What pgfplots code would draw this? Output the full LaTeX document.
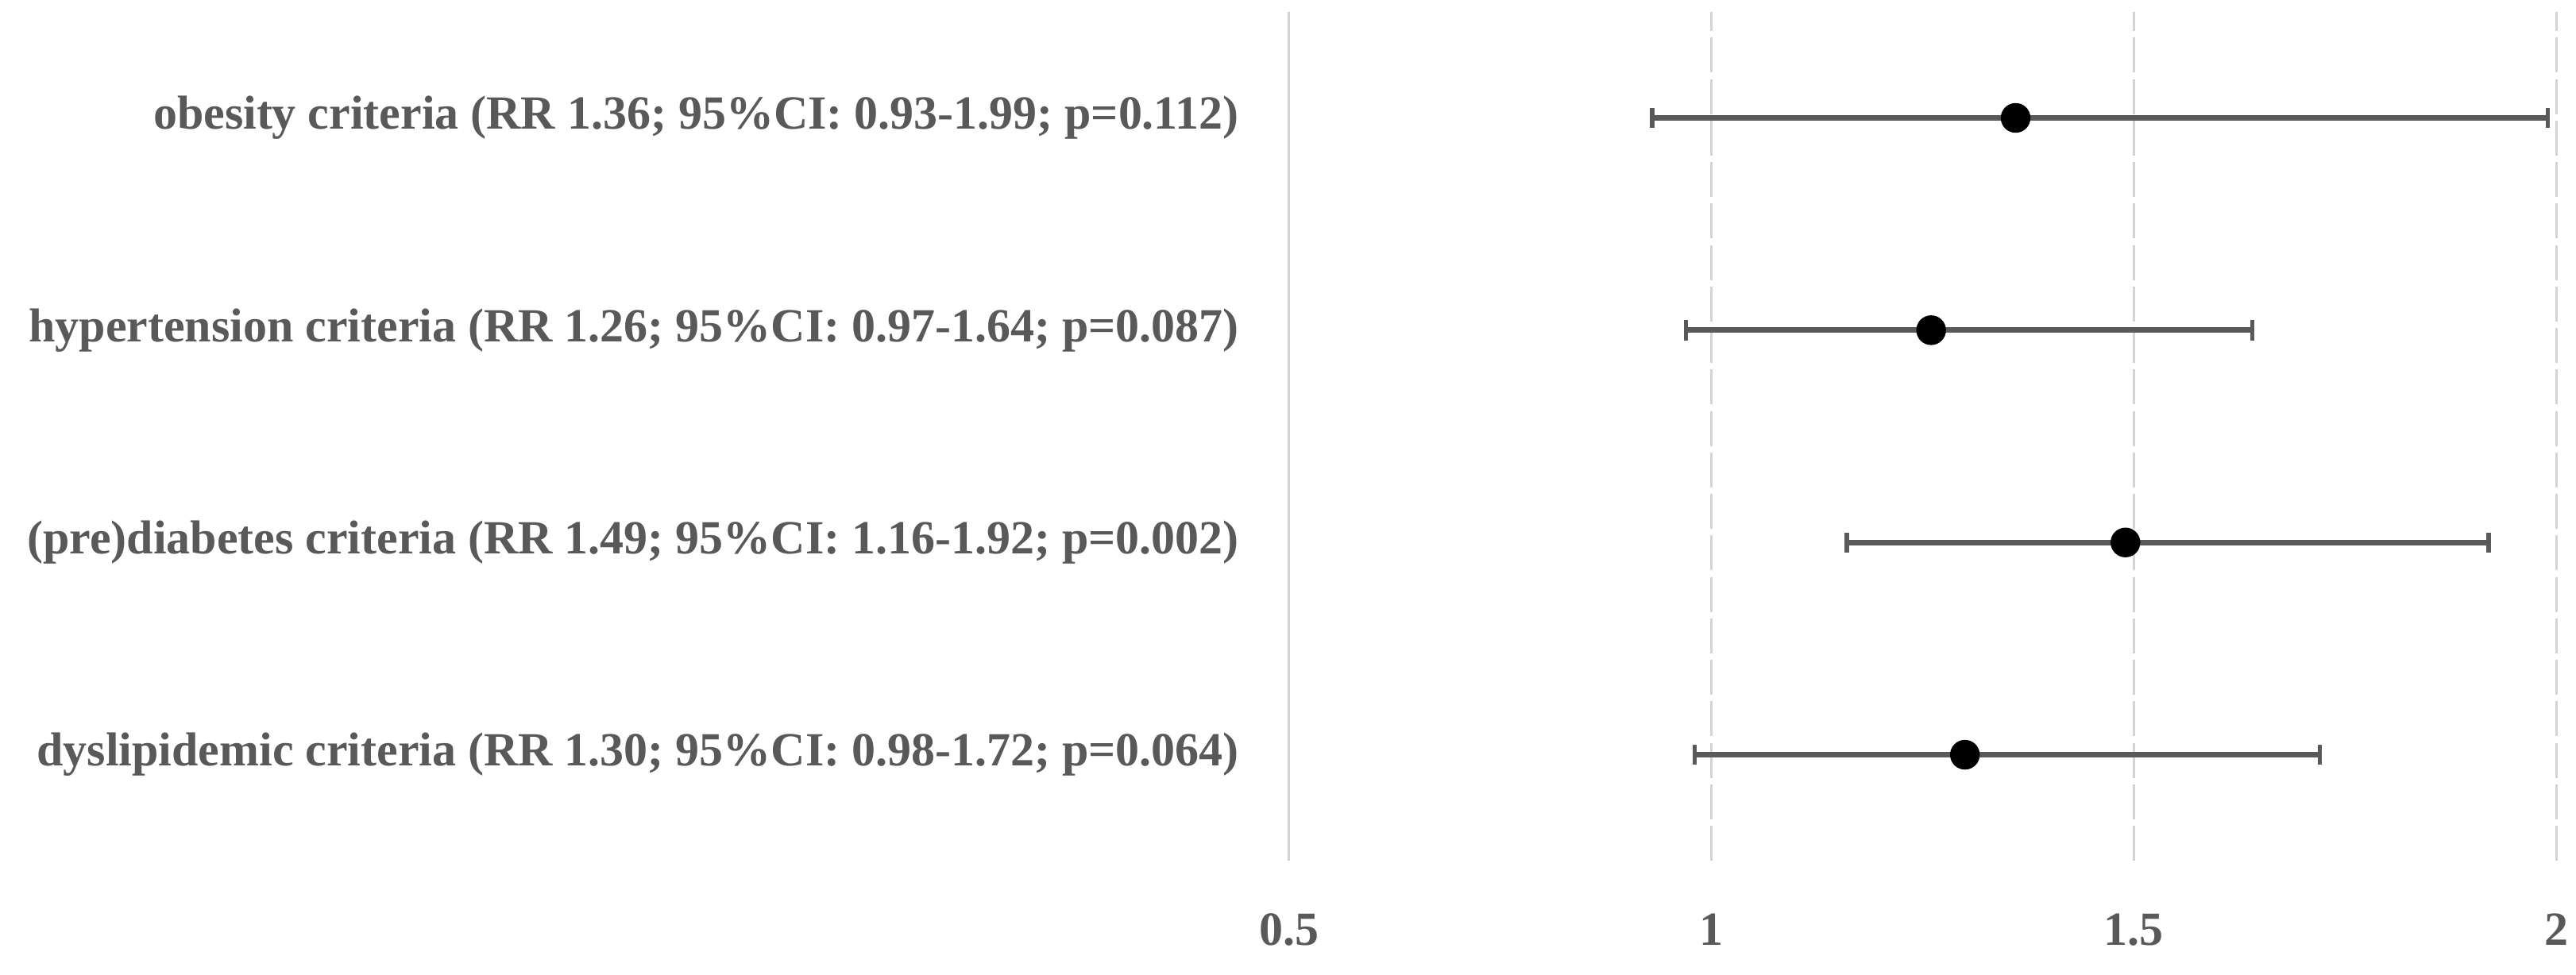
\documentclass[border=0pt]{standalone}
\usepackage{pgfplots}
\pgfplotsset{compat=1.18}
\usepackage{pgfplotstable}
\usepackage{fontspec}
\setmainfont{Liberation Serif}

\definecolor{txtgray}{HTML}{595959}
\definecolor{gridgray}{HTML}{D4D4D4}
\definecolor{bargray}{HTML}{595959}

% position, relative risk, lower and upper CI bound
\pgfplotstableread{
pos rr   lo   hi
4   1.36 0.93 1.99
3   1.26 0.97 1.64
2   1.49 1.16 1.92
1   1.30 0.98 1.72
}\rrdata

\begin{document}
\begin{tikzpicture}
\begin{axis}[
    width=290pt, height=194.4pt, scale only axis,
    xmin=0.5, xmax=2, ymin=0.5, ymax=4.5,
    xtick={0.5,1,1.5,2},
    ytick={1,2,3,4},
    yticklabels={
        dyslipidemic criteria (RR 1.30; 95\%CI: 0.98-1.72; p=0.064),
        (pre)diabetes criteria (RR 1.49; 95\%CI: 1.16-1.92; p=0.002),
        hypertension criteria (RR 1.26; 95\%CI: 0.97-1.64; p=0.087),
        obesity criteria (RR 1.36; 95\%CI: 0.93-1.99; p=0.112)},
    axis lines*=left,
    x axis line style={draw=none},
    y axis line style={draw=gridgray, line width=0.5pt},
    major tick length=0pt,
    xmajorgrids,
    major grid style={gridgray, line width=0.5pt, dash pattern=on 8pt off 1.5pt},
    tick label style={font=\fontsize{10.9}{13}\selectfont\bfseries, text=txtgray},
    /pgf/number format/assume math mode=true,
    xticklabel style={inner sep=0pt, anchor=north, yshift=-11.9pt},
    yticklabel style={inner sep=0pt, anchor=east, xshift=-11.3pt},
    clip=false,
]
\addplot[only marks, mark=*, mark size=3.2pt,
    mark options={fill=black, draw=black},
    error bars/.cd, x dir=both, x explicit,
    error bar style={bargray, line width=1.3pt},
    error mark options={rotate=90, bargray, mark size=2.3pt, line width=1pt}]
    table[x=rr, y=pos,
        x error plus expr=\thisrow{hi}-\thisrow{rr},
        x error minus expr=\thisrow{rr}-\thisrow{lo}] {\rrdata};
\end{axis}
% page margins
\path ([yshift=2.7pt]current axis.north west)
      ([yshift=-26pt]current axis.south west)
      ([xshift=4.5pt]current axis.south east)
      ([xshift=-295pt]current axis.south west);
\end{tikzpicture}
\end{document}
